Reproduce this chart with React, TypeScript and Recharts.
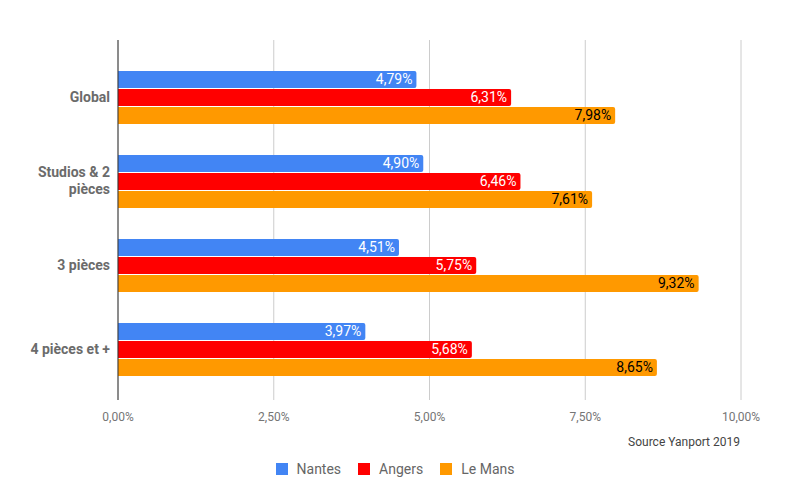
import React from 'react';
import { BarChart, Bar, XAxis, YAxis, CartesianGrid, LabelList } from 'recharts';

const categories = ['Global', 'Studios & 2 pièces', '3 pièces', '4 pièces et +'];
const nantes = [4.79, 4.9, 4.51, 3.97];
const angers = [6.31, 6.46, 5.75, 5.68];
const leMans = [7.98, 7.61, 9.32, 8.65];
const xTicks = [0, 2.5, 5, 7.5, 10];
const series = [
  { key: 'nantes', name: 'Nantes', color: '#4285f4', labelColor: '#ffffff' },
  { key: 'angers', name: 'Angers', color: '#ff0000', labelColor: '#ffffff' },
  { key: 'leMans', name: 'Le Mans', color: '#ff9900', labelColor: '#000000' },
];
const sourceText = 'Source Yanport 2019';

const data = categories.map((c, i) => ({ name: c, nantes: nantes[i], angers: angers[i], leMans: leMans[i] }));

const fmt = (v: number) => v.toFixed(2).replace('.', ',') + '%';

const wrapLabel = (s: string): string[] => {
  if (s === 'Studios & 2 pièces') return ['Studios & 2', 'pièces'];
  return [s];
};

const YTick = (props: any) => {
  const { x, y, payload } = props;
  const lines = wrapLabel(payload.value);
  const lh = 17;
  const start = -((lines.length - 1) * lh) / 2;
  return (
    <text x={x} y={y} textAnchor="end" fill="#6b6b6b" fontSize={14} fontWeight="bold" fontFamily="Roboto">
      {lines.map((l, i) => (
        <tspan key={i} x={x} y={y + start + i * lh} dy="0.35em">{l}</tspan>
      ))}
    </text>
  );
};

export default function App() {
  return (
    <div style={{ position: 'absolute', left: 0, top: 0, width: 790, height: 490, background: '#fff', fontFamily: 'Roboto' }}>
      <BarChart
        width={790}
        height={490}
        data={data}
        layout="vertical"
        margin={{ top: 40, right: 49, bottom: 70, left: 0 }}
        barSize={17}
        barGap={1}
      >
        <CartesianGrid horizontal={false} vertical={true} stroke="#cccccc" />
        <XAxis
          type="number"
          domain={[0, 10]}
          ticks={xTicks}
          tickFormatter={fmt}
          axisLine={false}
          tickLine={false}
          height={20}
          tick={{ fill: '#757575', fontSize: 12, fontFamily: 'Roboto' }}
          tickMargin={6}
        />
        <YAxis
          type="category"
          dataKey="name"
          width={118}
          axisLine={{ stroke: '#333333' }}
          tickLine={false}
          tick={<YTick />}
          tickMargin={2}
          padding={{ top: 15, bottom: 9 }}
        />
        {series.map((s) => (
          <Bar key={s.key} dataKey={s.key} name={s.name} fill={s.color} radius={[0, 2, 2, 0]} isAnimationActive={false}>
            <LabelList
              dataKey={s.key}
              position="insideRight"
              offset={4}
              formatter={(v: any) => fmt(Number(v))}
              style={{ fill: s.labelColor, fontSize: 14, fontFamily: 'Roboto' }}
            />
          </Bar>
        ))}
      </BarChart>
      <div style={{ position: 'absolute', right: 50, top: 435, fontSize: 12, color: '#444', fontFamily: 'Roboto' }}>{sourceText}</div>
      <div style={{ position: 'absolute', left: 0, top: 460, width: 790, display: 'flex', justifyContent: 'center', gap: 17, fontSize: 14, color: '#666', fontFamily: 'Roboto', lineHeight: '18px' }}>
        {series.map((s) => (
          <div key={s.key} style={{ display: 'flex', alignItems: 'center' }}>
            <span style={{ display: 'inline-block', width: 12, height: 12, background: s.color, marginRight: 9 }} />
            <span>{s.name}</span>
          </div>
        ))}
      </div>
    </div>
  );
}
